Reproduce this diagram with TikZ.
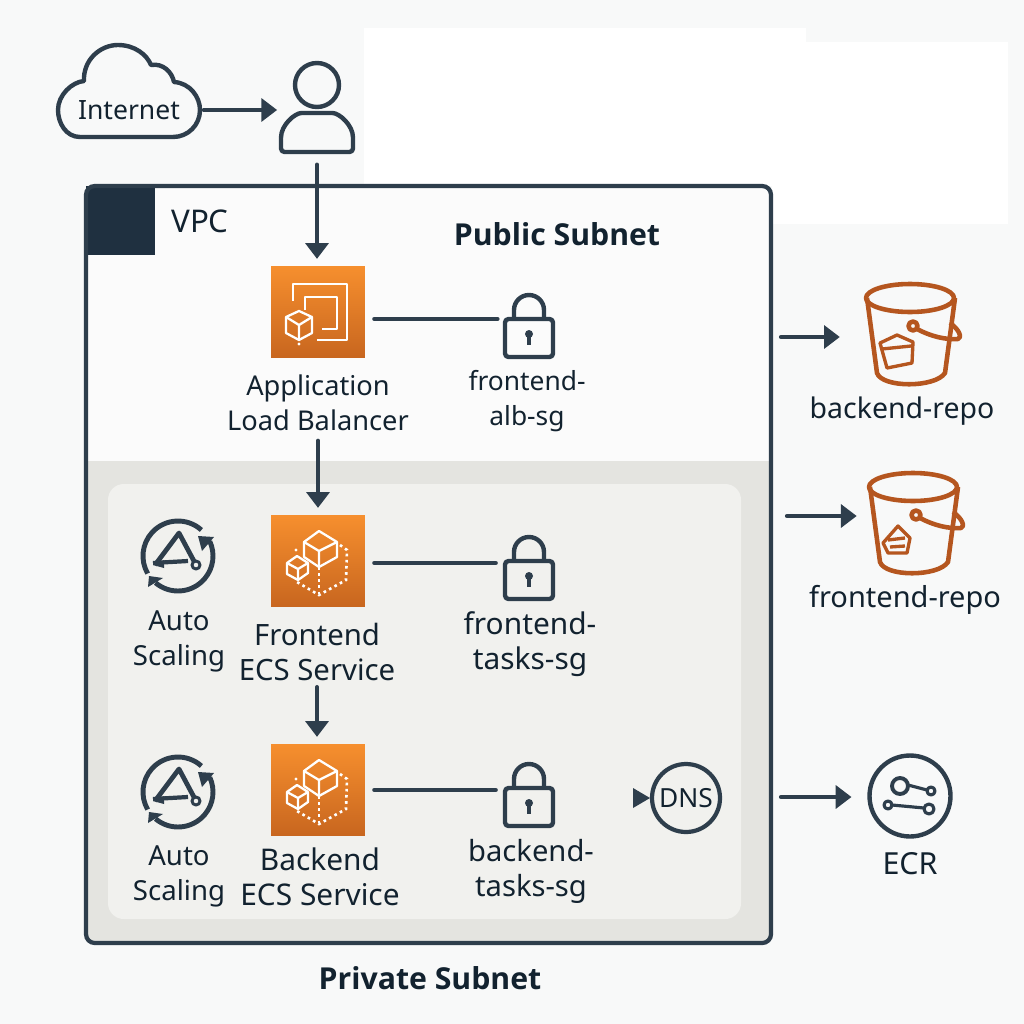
\documentclass[tikz,border=0pt]{standalone}
\usepackage{fontspec}
\setmainfont{Noto Sans}
\newfontfamily\headfont{Open Sans}
\usetikzlibrary{arrows.meta,calc}
\definecolor{inkline}{HTML}{2E3E4C}
\definecolor{inktext}{HTML}{12222F}
\definecolor{inkdark}{HTML}{1F3040}
\definecolor{pagegrey}{HTML}{F8F9F9}
\definecolor{privgrey}{HTML}{E4E4E0}
\definecolor{taskgrey}{HTML}{F1F1EE}
\definecolor{rust}{HTML}{B5561F}
\definecolor{awstop}{HTML}{F68F2E}
\definecolor{awsbottom}{HTML}{C8661F}
\tikzset{
	flow/.style={line width=2.4pt, color=inkline, line cap=round, -{Triangle[length=9pt,width=13pt]}},
	link/.style={line width=2.2pt, color=inkline, line cap=round},
	icon/.style={line width=2.5pt, color=inkline, line join=round},
	glyph/.style={line width=1.3pt, color=white, line join=round},
	dots/.style={line width=1.5pt, color=white, dash pattern=on 1.5pt off 2pt},
	bucketline/.style={line width=2.6pt, color=rust, line join=round},
	caption/.style={align=center, text=inktext, font=\fontsize{#1}{20}\selectfont},
	caption/.default=15.7,
	heading/.style={align=center, text=inktext, font=\fontsize{17.2}{20}\selectfont\headfont\bfseries},
	spot/.style={minimum width=#1, minimum height=0pt, inner sep=0pt},
	awsbox/.style={minimum width=1.88cm, minimum height=1.83cm, inner sep=0pt, top color=awstop, bottom color=awsbottom},
}
\def\lockicon(#1){
	\begin{scope}[shift={(#1)}]
		\draw[icon, rounded corners=2pt] (-24,0) rectangle (24,38);
		\draw[icon] (-15,0) -- (-15,-9) arc (180:360:15) -- (15,0);
		\fill[inkline] (0,15) circle (4);
		\draw[inkline, line width=1.8pt] (0,15) -- (0,26);
	\end{scope}
}
\def\ecsglyph(#1){
	\begin{scope}[shift={(#1)}]
		\draw[dots] (22,-16) -- (29,-11) -- (28,19) -- (1,34) -- (-21,21);
		\draw[dots] (1,6) -- (1,34);
		\fill[white] (-22,-11) circle (1.7);
		\draw[glyph] (1,-30) -- (19,-19) -- (19,-4) -- (1,6) -- (-14,-4) -- (-14,-19) -- cycle;
		\draw[glyph] (-14,-19) -- (1,-10) -- (19,-19) (1,-10) -- (1,6);
		\draw[glyph] (-21,-5) -- (-10,2) -- (-10,12) -- (-20,19) -- (-31,13) -- (-31,2) -- cycle;
		\draw[glyph] (-31,2) -- (-20,8) -- (-10,2) (-20,8) -- (-20,19);
	\end{scope}
}
\def\scalingicon(#1){
	\begin{scope}[shift={(#1)}]
		\draw[icon, line width=2.8pt] (23.4,-26) arc (-48:-210:35);
		\draw[icon, line width=2.8pt] (-22.5,26.8) arc (130:-25:35);
		\fill[inkline] (20,-20) -- (36,-19) -- (24,-5) -- cycle;
		\fill[inkline] (-30,31) -- (-15,22) -- (-29,20) -- cycle;
		\draw[icon, line width=2.7pt] (-23,9) -- (1,-23) -- (17,7);
		\draw[icon, line width=2.4pt] (-25,7) -- (10,5);
		\fill[inkline] (-25,9) -- (-14,4) -- (-14,12) -- cycle;
		\draw[icon, line width=1.7pt, fill=taskgrey] (18,9) circle (4);
	\end{scope}
}
\def\bucketicon(#1){
	\begin{scope}[shift={(#1)}]
		\draw[bucketline] (0,0) ellipse (44 and 14);
		\draw[bucketline] (-43,0) -- (-33,75) .. controls (-28,90) and (25,90) .. (35,75) -- (45,0);
		\draw[bucketline] (3,28) circle (4.5);
		\draw[bucketline] (7,31) .. controls (20,38) and (35,42) .. (48,41) .. controls (52,40) and (50,32) .. (40,25);
	\end{scope}
}
\begin{document}
\begin{tikzpicture}[x=0.02cm,y=-0.02cm]
	%%%%% START %%%%%
	\fill[pagegrey] (0,0) rectangle (1024,1024);
	\useasboundingbox (0,0) rectangle (1024,1024);
	\fill[white] (364,28) rectangle (806,186);
	\fill[white] (806,42) rectangle (1008,224);
	\fill[white] (772,186) rectangle (806,224);
	
	% vpc
	\fill[pagegrey!60!white, rounded corners=5pt] (86,186) rectangle (771,500);
	\fill[privgrey, rounded corners=5pt] (86,461) rectangle (771,943);
	\fill[privgrey] (86,461) rectangle (771,500);
	\fill[taskgrey, rounded corners=9pt] (108,484) rectangle (741,919);
	\fill[inkdark] (86,186) rectangle (155,255);
	\draw[line width=2.4pt, color=inkline, rounded corners=5pt] (86,186) rectangle (771,943);
	\node[caption=17.8] (vpc) at (200,221) {VPC};
	\node[heading] (public) at (557,234) {Public Subnet};
	\node[heading] (private) at (430,978) {Private Subnet};
	
	% outside
	\draw[icon, fill=pagegrey] (80,137) .. controls (66,137) and (58,123) .. (58,110) .. controls (58,95) and (72,82) .. (84,81) .. controls (83,60) and (100,45) .. (118,45) .. controls (135,45) and (147,55) .. (151,65) .. controls (163,63) and (172,72) .. (174,82) .. controls (190,83) and (200,97) .. (200,110) .. controls (200,125) and (188,137) .. (173,137) -- cycle;
	\node[caption=15.1, minimum width=2.84cm, inner sep=0pt] (internet) at (129,110) {Internet};
	\node[spot=1.44cm, minimum height=1.8cm] (user) at (317,107) {};
	\draw[icon] (317,85) circle (22);
	\draw[icon, rounded corners=2pt] (281,152) -- (281,141) .. controls (281,125) and (295,113) .. (305,113) -- (329,113) .. controls (339,113) and (353,125) .. (353,141) -- (353,152) -- cycle;
	\draw[flow, shorten <=2pt, shorten >=2pt] (internet.east) -- (user.west |- internet.east);
	
	% public subnet
	\node[awsbox] (alb) at (318,312) {};
	\draw[flow, shorten <=7pt, shorten >=4pt] (user.south) -- (user.south |- alb.north);
	\draw[glyph] (293,301) -- (293,284) -- (347,284) -- (347,340) -- (317,340);
	\draw[glyph] (305,310) -- (305,297) -- (337,297) -- (337,329) -- (322,329);
	\draw[glyph] (299,311) -- (312,317) -- (312,333) -- (299,340) -- (286,333) -- (286,317) -- cycle;
	\draw[glyph] (286,317) -- (299,325) -- (312,317) (299,325) -- (299,340);
	\fill[white] (299,344) circle (1.7);
	\node[caption=15.5] (alblabel) at (318,403) {Application\\Load Balancer};
	\node[spot=0.96cm] (albsg) at (529,319) {};
	\lockicon(529,319)
	\node[caption=15] (albsgtext) at (527,401) {frontend-\\alb-sg};
	\draw[link, shorten <=5pt, shorten >=4pt] (alb.east |- albsg.west) -- (albsg.west);
	
	% private subnet
	\node[awsbox] (frontend) at (318,561) {};
	\ecsglyph(318,561)
	\node[caption=16.7] (frontendlabel) at (317,652) {Frontend\\ECS Service};
	\scalingicon(178,556)
	\node[caption] (autoone) at (179,641) {Auto\\Scaling};
	\node[spot=0.96cm] (frontendsg) at (529,563) {};
	\lockicon(529,561)
	\node[caption=17] (frontendsgtext) at (530,644) {frontend-\\tasks-sg};
	\draw[link, shorten <=5pt, shorten >=5pt] (frontend.east |- frontendsg.west) -- (frontendsg.west);
	\draw[flow, shorten <=2pt, shorten >=4pt] (alblabel.south -| alb.south) -- (frontend.north);
	
	\node[awsbox] (backend) at (318,790) {};
	\ecsglyph(318,790)
	\node[caption=17] (backendlabel) at (320,877) {Backend\\ECS Service};
	\scalingicon(178,792)
	\node[caption] (autotwo) at (179,876) {Auto\\Scaling};
	\node[spot=0.96cm] (backendsg) at (529,790) {};
	\lockicon(529,788)
	\node[caption=16.6] (backendsgtext) at (531,871) {backend-\\tasks-sg};
	\draw[link, shorten <=5pt, shorten >=5pt] (backend.east |- backendsg.west) -- (backendsg.west);
	\draw[flow, shorten >=4pt] (frontendlabel.south) -- (frontendlabel.south |- backend.north);
	
	\node[circle, draw=inkline, line width=2.4pt, minimum size=1.36cm, inner sep=0pt, caption=15] (dns) at (686,798) {DNS};
	\fill[inkline] (633,788) -- (650,798) -- (633,808) -- cycle;
	
	% repos
	\bucketicon(910,298)
	\draw[bucketline, line width=1.9pt] (880,343) -- (897,335) -- (913,342) -- (912,363) -- (887,368) -- cycle;
	\draw[bucketline, line width=1.9pt] (882,349) -- (911,346);
	\node[caption=16.2] (backendrepo) at (902,411) {backend-repo};
	\node[spot=1.76cm] (backendbucket) at (910,337) {};
	\coordinate (backendfrom) at (781,337);
	\draw[flow, shorten >=14.7pt] (backendfrom) -- (backendbucket.west);
	
	\bucketicon(913,487)
	\draw[bucketline, line width=1.9pt] (898,526) -- (910,538) -- (907,553) -- (888,553) -- (883,543) -- cycle;
	\draw[bucketline, line width=1.9pt] (888,540) -- (905,538) (890,547) -- (905,546);
	\node[caption=16.5] (frontendrepo) at (905,600) {frontend-repo};
	\node[spot=1.76cm] (frontendbucket) at (913,516) {};
	\coordinate (frontendfrom) at (787,516);
	\draw[flow, shorten >=6.8pt] (frontendfrom) -- (frontendbucket.west);
	
	\node[circle, draw=inkline, line width=2.5pt, minimum size=1.62cm, inner sep=0pt] (ecr) at (910,796) {};
	\draw[icon, line width=2.2pt] (900,786) circle (8);
	\draw[icon, line width=1.8pt] (908,785) -- (927,790);
	\draw[icon, line width=1.8pt] (931,791) circle (4);
	\draw[icon, line width=1.8pt] (888,805) circle (4);
	\draw[icon, line width=1.8pt] (892,805) -- (924,808);
	\draw[icon, line width=1.8pt] (929,809) circle (5);
	\node[caption=17.3] (ecrlabel) at (910,864) {ECR};
	\coordinate (ecrfrom) at (781,797);
	\draw[flow, shorten >=9pt] (ecrfrom) -- (ecr.west |- ecrfrom);
	
	%%%%% END %%%%%
\end{tikzpicture}
\end{document}
